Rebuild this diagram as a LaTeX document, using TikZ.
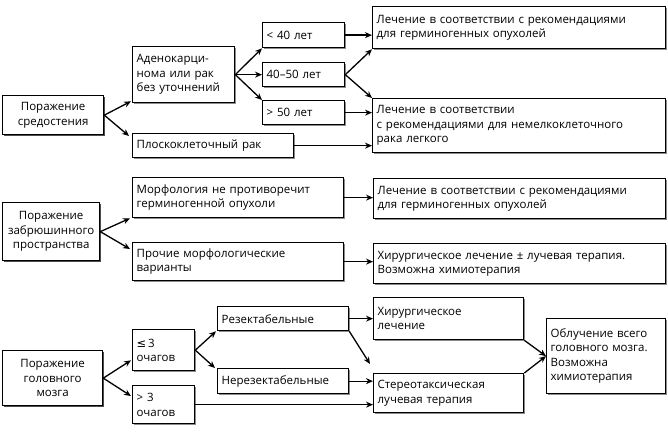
\documentclass[tikz,border=0pt]{standalone}
\usepackage{fontspec}
\setmainfont{Open Sans}
\newfontfamily\symf{DejaVu Sans}
\usetikzlibrary{arrows.meta,shadows,calc}
\tikzset{
  box/.style={draw, line width=1.3pt, fill=white, anchor=north west, inner sep=4pt,
    align=left, font=\fontsize{11.5}{14.5}\selectfont,
    drop shadow={shadow xshift=1.3pt, shadow yshift=-1.3pt, fill=black, opacity=0.45}},
  cbox/.style={box, align=center},
  arr/.style={line width=1.3pt, -{Stealth[length=7pt,width=6pt]}}
}
\newcommand\mkbox[7][]{%
  \pgfmathsetmacro\bxw{#5-#3}\pgfmathsetmacro\bxh{#6-#4}\pgfmathsetmacro\bxt{#5-#3-8}%
  \node[box,#1,minimum width=\bxw pt,minimum height=\bxh pt,text width=\bxt pt] (#2) at (#3,#4) {#7};}
\begin{document}
\begin{tikzpicture}[x=1pt,y=-1pt]
\useasboundingbox (0,0) rectangle (668,433);
% top section
\mkbox[cbox]{sred}{2}{95}{103}{134}{Поражение\\средостения}
\mkbox{adeno}{132}{46}{234}{102}{Аденокарци-\\нома или рак\\без уточнений}
\mkbox{lt40}{262}{22}{344}{47}{< 40 лет}
\mkbox{m4050}{262}{62}{344}{86}{40–50 лет}
\mkbox{gt50}{262}{100}{344}{124}{> 50 лет}
\mkbox{plosk}{132}{133}{293}{157}{Плоскоклеточный рак}
\mkbox{rgerm1}{372}{6}{665}{48}{Лечение в соответствии с рекомендациями\\для герминогенных опухолей}
\mkbox{rnsclc}{372}{98}{665}{152}{Лечение в соответствии\\с рекомендациями для немелкоклеточного\\рака легкого}
% middle section
\mkbox[cbox]{zab}{2}{202}{99}{260}{Поражение\\забрюшинного\\пространства}
\mkbox{morph}{132}{177}{343}{217}{Морфология не противоречит\\герминогенной опухоли}
\mkbox{proch}{132}{242}{343}{280}{Прочие морфологические\\варианты}
\mkbox{rgerm2}{373}{178}{665}{218}{Лечение в соответствии с рекомендациями\\для герминогенных опухолей}
\mkbox{rsurg}{373}{243}{665}{283}{Хирургическое лечение ± лучевая терапия.\\Возможна химиотерапия}
% bottom section
\mkbox[cbox]{brain}{2}{350}{102}{405}{Поражение\\головного\\мозга}
\mkbox{le3}{132}{329}{194}{370}{{\symf ≤}\,3\\очагов}
\mkbox{gt3}{132}{385}{194}{423}{> 3\\очагов}
\mkbox{resect}{217}{306}{348}{330}{Резектабельные}
\mkbox{nonres}{217}{368}{348}{393}{Нерезектабельные}
\mkbox{surg}{373}{297}{523}{339}{Хирургическое\\лечение}
\mkbox{stereo}{373}{373}{523}{412}{Стереотаксическая\\лучевая терапия}
\mkbox{wbrt}{546}{318}{665}{393}{Облучение всего\\головного мозга.\\Возможна\\химиотерапия}
% connectors
\draw[arr] (sred.east) -- ([xshift=-1pt,yshift=2pt]adeno.south west);
\draw[arr] (sred.east) -- ([xshift=-3pt,yshift=-3pt]plosk.north west);
\draw[arr] (adeno.east) -- (lt40.south west);
\draw[arr] (adeno.east) -- (m4050.west);
\draw[arr] (adeno.east) -- (gt50.north west);
\draw[arr] (lt40.east) -- (lt40.east -| rgerm1.west);
\draw[arr] (m4050.east) -- (rgerm1.south west);
\draw[arr] (m4050.east) -- (rnsclc.north west);
\draw[arr] (gt50.east) -- (gt50.east -| rnsclc.west);
\draw[arr] (plosk.east) -- (plosk.east -| rnsclc.west);
\draw[arr] (zab.east) -- ([xshift=-2pt]morph.south west);
\draw[arr] (zab.east) -- ([xshift=-2pt,yshift=-7pt]proch.north west);
\draw[arr] (morph.east) -- (morph.east -| rgerm2.west);
\draw[arr] (proch.east) -- (proch.east -| rsurg.west);
\draw[arr] (brain.east) -- ([xshift=-1pt,yshift=11pt]le3.south west);
\draw[arr] (brain.east) -- ([xshift=-1pt,yshift=-11pt]gt3.north west);
\draw[arr] (le3.east) -- ([xshift=-1pt]resect.south west);
\draw[arr] (le3.east) -- ([xshift=-2pt]nonres.north west);
\draw[arr] (resect.east) -- (resect.east -| surg.west);
\draw[arr] (resect.south east) -- ([xshift=-3pt,yshift=9pt]stereo.north west);
\draw[arr] (nonres.east) -- (nonres.east -| stereo.west);
\draw[arr] (gt3.east) -- (gt3.east -| stereo.west);
\draw[arr] (surg.south east) -- (wbrt.west);
\draw[arr] (stereo.north east) -- (wbrt.west);
\end{tikzpicture}
\end{document}
